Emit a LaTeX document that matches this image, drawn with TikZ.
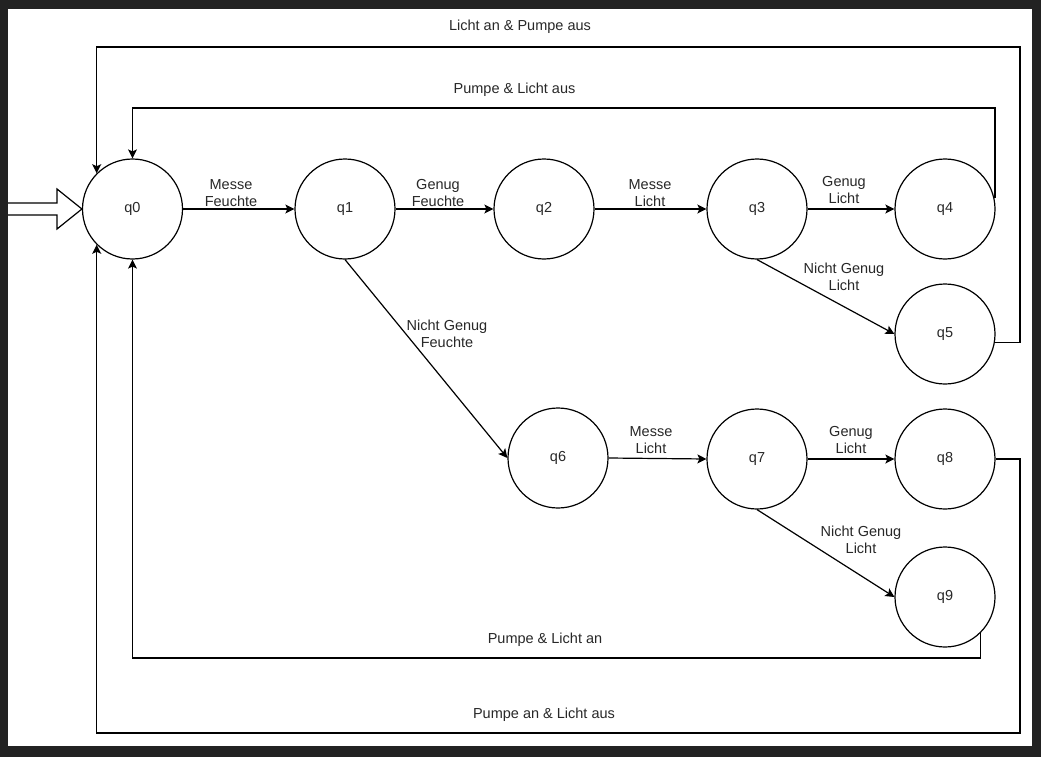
\documentclass[tikz,border=0pt]{standalone}
\usepackage{fontspec}
\setmainfont{Liberation Sans}
\usetikzlibrary{arrows.meta}
\definecolor{framec}{RGB}{34,34,34}
\definecolor{txt}{RGB}{40,40,40}
\tikzset{
  state/.style={draw=black, line width=1.2pt, circle, minimum size=100pt, inner sep=0pt, text=txt, font=\fontsize{14.5}{17.5}\selectfont},
  lbl/.style={text=txt, align=center, inner sep=0pt, font=\fontsize{14.5}{17.5}\selectfont},
  edge/.style={draw=black, line width=1.2pt, -{Stealth[length=9pt,width=9pt,inset=2pt]}},
}
\begin{document}
\begin{tikzpicture}[x=1pt,y=-1pt]
\useasboundingbox (0,0) rectangle (1041,757);
\fill[framec] (0,0) rectangle (1041,757);
\fill[white] (8,9) rectangle (1032,746);

% states
\node[state] (q0) at (132.5,209) {q0};
\node[state] (q1) at (345,209) {q1};
\node[state] (q2) at (544,209) {q2};
\node[state] (q3) at (757,209) {q3};
\node[state] (q4) at (945,209) {q4};
\node[state] (q5) at (945,334) {q5};
\node[state] (q6) at (558,458) {q6};
\node[state] (q7) at (757,459) {q7};
\node[state] (q8) at (945,459) {q8};
\node[state] (q9) at (945,597) {q9};

% start arrow
\coordinate (s0) at (8,209);
\fill[white] (8,203) -- (57,203) -- (57,189) -- (q0.west) -- (57,229) -- (57,215) -- (8,215) -- cycle;
\draw[line width=1.2pt] (8,203) -- (57,203) -- (57,189) -- (q0.west) -- (57,229) -- (57,215) -- (8,215);

% forward transitions
\draw[edge] (q0.east) -- (q1.west);
\draw[edge] (q1.east) -- (q2.west);
\draw[edge] (q2.east) -- (q3.west);
\draw[edge] (q3.east) -- (q4.west);
\draw[edge] (q3.south) -- (q5.west);
\draw[edge] (q1.south) -- (q6.west);
\draw[edge] (q6.east) -- (q7.west);
\draw[edge] (q7.east) -- (q8.west);
\draw[edge] (q7.south) -- (q9.west);

% return loops
\coordinate (t1) at (995,108);
\coordinate (r1) at (1020,47);
\coordinate (r2) at (1020,733);
\coordinate (r3) at (132.5,658);
\draw[edge] (t1 |- q4.12) -- (t1) -| (q0.north);
\draw[edge] (q5.-10) -| (r1) -| (q0.135);
\draw[edge] (q8.east) -| (r2) -| (q0.225);
\draw[edge] (q9.-45) |- (r3) -- (q0.south);

% labels
\node[lbl] (l01) at (231,193) {Messe\\Feuchte};
\node[lbl] (l12) at (438,193) {Genug\\Feuchte};
\node[lbl] (l23) at (650,193) {Messe\\Licht};
\node[lbl] (l34) at (844,190) {Genug\\Licht};
\node[lbl] (l35) at (844,277) {Nicht Genug\\Licht};
\node[lbl] (l16) at (447,334) {Nicht Genug\\Feuchte};
\node[lbl] (l67) at (651,440) {Messe\\Licht};
\node[lbl] (l78) at (851,440) {Genug\\Licht};
\node[lbl] (l79) at (861,540) {Nicht Genug\\Licht};
\node[lbl] (l50) at (520,27) {Licht an \& Pumpe aus};
\node[lbl] (l40) at (514.5,90) {Pumpe \& Licht aus};
\node[lbl] (l90) at (545,640) {Pumpe \& Licht an};
\node[lbl] (l80) at (544,715) {Pumpe an \& Licht aus};
\end{tikzpicture}
\end{document}
